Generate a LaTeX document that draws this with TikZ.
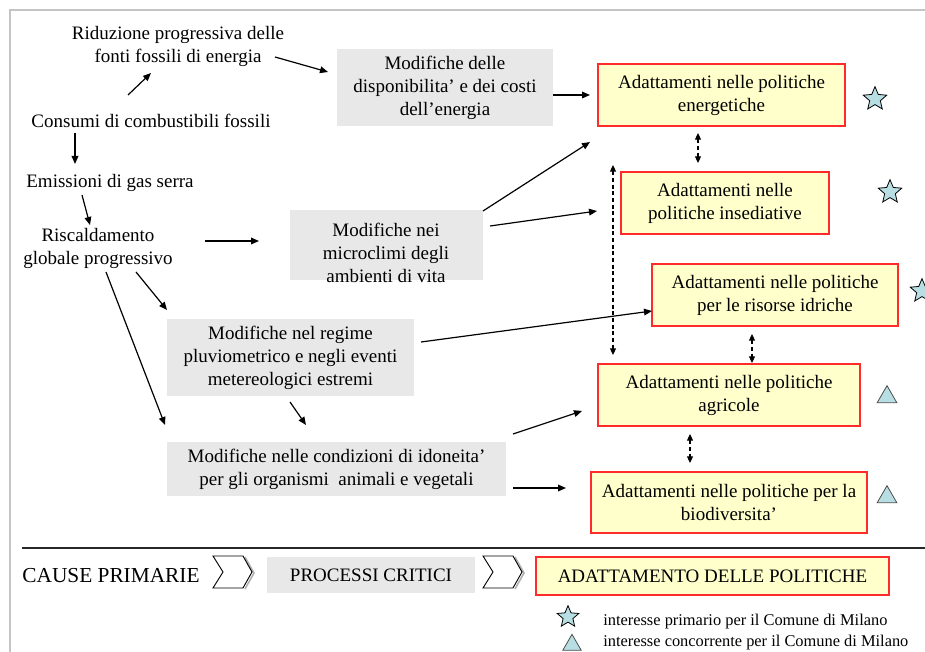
\documentclass[tikz,border=0pt]{standalone}
\usepackage{fontspec}
\setmainfont{Liberation Serif}
\usetikzlibrary{shapes.geometric,arrows.meta}
\definecolor{gfill}{HTML}{E8E8E8}
\definecolor{yfill}{HTML}{FFFFCC}
\definecolor{rdraw}{HTML}{FF2A2A}
\definecolor{bluefill}{HTML}{B7DEE3}
\definecolor{framegray}{HTML}{C4C4C4}
\newcommand\mainfs{\fontsize{14.25pt}{17.25pt}\selectfont}
\newcommand\legfs{\fontsize{12.3pt}{14pt}\selectfont}
\begin{document}
\begin{tikzpicture}[x=0.75pt,y=-0.75pt,
  txt/.style={align=center,font=\mainfs,inner sep=0pt},
  gbox/.style={fill=gfill,draw=none,inner sep=0pt,align=center,font=\mainfs},
  ybox/.style={fill=yfill,draw=rdraw,line width=0.9pt,inner sep=0pt,align=center,font=\mainfs},
  arr/.style={line width=0.9pt,-{Triangle[length=6pt,width=5pt]}},
  darr/.style={line width=0.8pt,dash pattern=on 3pt off 2pt,{Triangle[length=5pt,width=4.5pt]}-{Triangle[length=5pt,width=4.5pt]}},
  starmark/.style={star,star points=5,star point ratio=2.2,draw=black,line width=0.6pt,fill=bluefill,inner sep=0pt,minimum size=18.5pt},
  trimark/.style={regular polygon,regular polygon sides=3,draw=black!70,line width=0.6pt,fill=bluefill,inner sep=0pt,minimum size=17pt},
  chev/.style={draw=black,line width=0.7pt,fill=white},
  chevshadow/.style={draw=gray!60,line width=1.2pt}
]
\useasboundingbox (0,0) rectangle (925,652);
% frame
\draw[framegray,line width=1.2pt] (10,652) -- (10,10) -- (925,10);

% primary causes
\node[txt] (ridu) at (178,46) {Riduzione progressiva delle\\fonti fossili di energia};
\node[txt] (cons) at (151,121) {Consumi di combustibili fossili};
\node[txt] (emis) at (110,183) {Emissioni di gas serra};
\node[txt] (risc) at (98,248) {Riscaldamento\\globale progressivo};

% critical processes
\node[gbox,minimum width=162pt,minimum height=57.75pt] (gen) at (445,87.5) {Modifiche delle\\disponibilita’ e dei costi\\dell’energia};
\node[gbox,minimum width=144.75pt,minimum height=52.5pt] (gmic) at (386.5,245) {};
\node[txt] (gmict) at (386,253) {Modifiche nei\\microclimi degli\\ambienti di vita};
\node[gbox,minimum width=185.25pt,minimum height=57.75pt] (gplu) at (290.5,357.5) {Modifiche nel regime\\pluviometrico e negli eventi\\metereologici estremi};
\node[gbox,minimum width=254.25pt,minimum height=40.5pt] (gido) at (336.5,469) {Modifiche nelle condizioni di idoneita’\\per gli organismi\ \ animali e vegetali};

% policy adaptations
\node[ybox,minimum width=185.25pt,minimum height=46.5pt] (y1) at (721.5,95) {Adattamenti nelle politiche\\energetiche};
\node[ybox,minimum width=156pt,minimum height=46.5pt] (y2) at (725,203) {Adattamenti nelle\\politiche insediative};
\node[ybox,minimum width=184.5pt,minimum height=46.5pt] (y3) at (775,295) {Adattamenti nelle politiche\\per le risorse idriche};
\node[ybox,minimum width=196.5pt,minimum height=46.5pt] (y4) at (729,395) {Adattamenti nelle politiche\\agricole};
\node[ybox,minimum width=207pt,minimum height=45.75pt] (y5) at (729,502.5) {Adattamenti nelle politiche per la\\biodiversita’};

% marks
\node[starmark] (s1) at (875,99) {};
\node[starmark] (s2) at (890,192) {};
\node[starmark] (s3) at (922,291) {};
\node[trimark] (t1) at (887,397) {};
\node[trimark] (t2) at (887,497) {};

% arrow endpoints
\coordinate (a1s) at (128,95);  \coordinate (a1e) at (151,73);
\coordinate (a2s) at (275,57);  \coordinate (a2e) at (328,72);
\coordinate (a3s) at (75,133);  \coordinate (a3e) at (75,164);
\coordinate (a4s) at (82,195);  \coordinate (a4e) at (90,225);
\coordinate (a5s) at (205,241); \coordinate (a5e) at (259,241);
\coordinate (a6s) at (136,272); \coordinate (a6e) at (167,310);
\coordinate (a7s) at (106,272); \coordinate (a7e) at (165,425);
\coordinate (a8s) at (290,402); \coordinate (a8e) at (306,425);
\coordinate (a9s) at (553,95);  \coordinate (a9e) at (590,95);
\coordinate (a10s) at (483,211); \coordinate (a10e) at (590,142);
\coordinate (a11s) at (490,226); \coordinate (a11e) at (597,211);
\coordinate (a12s) at (421,342); \coordinate (a12e) at (652,311);
\coordinate (a13s) at (513,434); \coordinate (a13e) at (582,411);
\coordinate (a14s) at (513,488); \coordinate (a14e) at (566,488);
\coordinate (d1s) at (698,133); \coordinate (d1e) at (698,163);
\coordinate (d2s) at (613,165); \coordinate (d2e) at (613,355);
\coordinate (d3s) at (752,334); \coordinate (d3e) at (752,363);
\coordinate (d4s) at (690,434); \coordinate (d4e) at (690,463);

\foreach \i in {1,...,14} \draw[arr] (a\i s) -- (a\i e);
\foreach \i in {1,...,4} \draw[darr] (d\i s) -- (d\i e);

% bottom legend
\draw[black!85,line width=0.9pt] (22,548) -- (925,548);
\node[txt,font=\fontsize{16pt}{18pt}\selectfont] (cause) at (111,576) {CAUSE PRIMARIE};
\draw[chevshadow] (245,589) -- (254,573) -- (245,557);
\draw[chev] (213,556) -- (243,556) -- (252,572) -- (243,588) -- (213,588) -- (223,572) -- cycle;
\node[gbox,minimum width=156pt,minimum height=27pt] (proc) at (371,575) {PROCESSI CRITICI};
\draw[chevshadow] (515,589) -- (524,573) -- (515,557);
\draw[chev] (483,556) -- (513,556) -- (522,572) -- (513,588) -- (483,588) -- (493,572) -- cycle;
\node[ybox,minimum width=264.75pt,minimum height=28.5pt] (adapt) at (712.5,576) {ADATTAMENTO DELLE POLITICHE};

\node[starmark,minimum size=17pt] (ls) at (568,617) {};
\node[trimark,minimum size=16pt] (lt) at (572,645) {};
\node[anchor=west,font=\legfs,inner sep=0pt] (lst) at (603,622) {interesse primario per il Comune di Milano};
\node[anchor=west,font=\legfs,inner sep=0pt] (ltt) at (603,643) {interesse concorrente per il Comune di Milano};
\end{tikzpicture}
\end{document}
